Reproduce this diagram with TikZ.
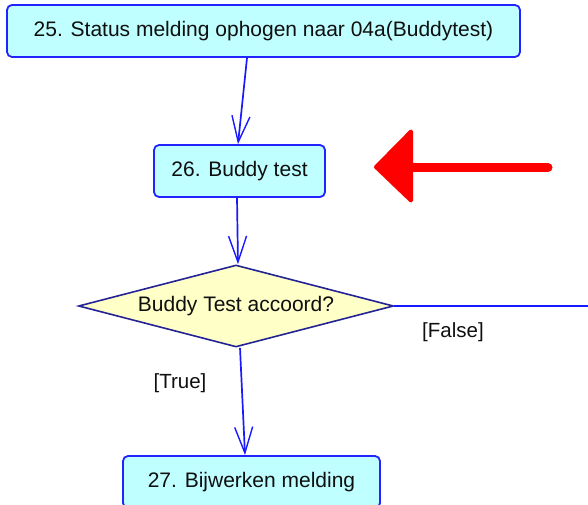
\documentclass[tikz,border=0pt]{standalone}
\usepackage{fontspec}
\setmainfont{Liberation Sans}
\usetikzlibrary{shapes.geometric,arrows.meta}

\definecolor{actfill}{RGB}{192,255,255}
\definecolor{actline}{RGB}{35,35,255}
\definecolor{decfill}{RGB}{255,255,200}
\definecolor{decline}{RGB}{35,35,150}
\definecolor{flow}{RGB}{25,25,255}
\definecolor{txt}{RGB}{15,15,15}

\tikzset{
  activity/.style={draw=actline, fill=actfill, line width=1.8pt,
    rounded corners=5pt, inner sep=0pt, text=txt,
    font=\fontsize{21}{25}\selectfont},
  decision/.style={draw=decline, fill=decfill, line width=1.6pt,
    diamond, aspect=3.84, inner sep=0pt, text=txt,
    font=\fontsize{21}{25}\selectfont},
  flowline/.style={draw=flow, line width=1.7pt},
  flowarrow/.style={flowline, -{Straight Barb[length=26pt,width=18pt,line width=1.4pt]}},
  guard/.style={text=txt, inner sep=0pt, font=\fontsize{20.5}{24}\selectfont},
  pointer/.style={draw=red, fill=red, line width=4pt, line join=round}
}

\begin{document}
\begin{tikzpicture}[x=1pt,y=-1pt]
  \useasboundingbox (0,0) rectangle (588,505);
  \clip (0,0) rectangle (588,505);

  % activities and decision
  \node[activity, minimum width=513pt, minimum height=52pt] (b25) at (263.5,31)
    {\raisebox{2pt}{25. Status melding ophogen naar 04a(Buddytest)}};
  \node[activity, minimum width=171pt, minimum height=52pt] (b26) at (239.5,171)
    {\raisebox{2pt}{26. Buddy test}};
  \node[decision, minimum width=315pt, minimum height=82pt] (d) at (236,306)
    {Buddy Test accoord?};
  \node[activity, minimum width=257pt, minimum height=52pt] (b27) at (251.5,482)
    {\raisebox{2pt}{27. Bijwerken melding}};

  \coordinate (out) at (588,306);

  % flows
  \draw[flowarrow] ([xshift=-16.5pt]b25.south) -- ([xshift=-1.5pt]b26.north);
  \draw[flowarrow] ([xshift=-2.5pt]b26.south) -- ([xshift=2pt]d.north);
  \draw[flowarrow] ([xshift=4pt]d.south) -- ([xshift=-6.5pt]b27.north);
  \draw[flowline] (d.east) -- (out);

  % guards
  \node[guard] (gfalse) at (453,332) {[False]};
  \node[guard] (gtrue) at (180,383) {[True]};

  % red pointer arrow
  \draw[draw=red, line width=9pt, line cap=round] (405,167.5) -- (548,167.5);
  \path[pointer] (376,167) -- (411,131.5) -- (411,200.5) -- cycle;
\end{tikzpicture}
\end{document}
